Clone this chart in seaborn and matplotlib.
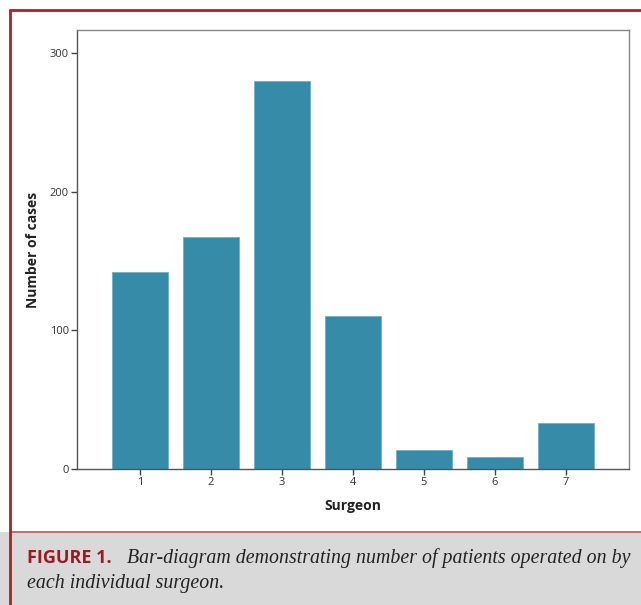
import matplotlib
matplotlib.use("Agg")
import matplotlib.pyplot as plt
import seaborn as sns
import pandas as pd

surgeons = ["1", "2", "3", "4", "5", "6", "7"]
cases = [142, 167, 280, 110, 14, 9, 33]
yticks = [0, 100, 200, 300]

bar_color = "#368ba8"
frame_red = "#a8222a"

sns.set_style("white")
plt.rcParams["font.family"] = ["Open Sans", "DejaVu Sans"]

df = pd.DataFrame({"Surgeon": surgeons, "cases": cases})

fig = plt.figure(figsize=(6.41, 6.05), dpi=100)
ax = fig.add_axes([77 / 641, 1 - 469 / 605, (629 - 77) / 641, (469 - 30) / 605])

sns.barplot(data=df, x="Surgeon", y="cases", color=bar_color, width=0.78,
            saturation=1, edgecolor="#6fb0c6", linewidth=0.6, ax=ax)

ax.set_xlim(-0.89, 6.89)
ax.set_ylim(0, 316.5)
ax.set_yticks(yticks)
ax.set_xlabel("Surgeon", fontsize=10, fontweight="bold", color="#222222", labelpad=8)
ax.set_ylabel("Number of cases", fontsize=10, fontweight="bold", color="#222222", labelpad=7)
for s in ax.spines.values():
    s.set_color("#555555")
    s.set_linewidth(1.0)
ax.spines["top"].set_color("#888888")
ax.spines["right"].set_color("#888888")
ax.tick_params(axis="both", direction="out", length=4, width=1.0, color="#444444",
               labelsize=8, labelcolor="#333333", pad=2)
ax.tick_params(left=True, bottom=True)

# page frame and caption panel
fig.patches.append(plt.Rectangle((0, 0), 1, (605 - 532) / 605, transform=fig.transFigure,
                                 facecolor="#d9d9d9", edgecolor="none", zorder=0))
fig.add_artist(plt.Line2D([10 / 641, 1], [1 - 532 / 605] * 2, color="#c0555c", lw=1.2))
fig.add_artist(plt.Line2D([10 / 641, 1], [1 - 10 / 605] * 2, color=frame_red, lw=2))
fig.add_artist(plt.Line2D([10 / 641, 10 / 641], [0, 1 - 10 / 605], color=frame_red, lw=2))

fig.text(27 / 641, 1 - 563 / 605, "FIGURE 1.", fontsize=13, fontweight="bold",
         color="#9b1b24", va="baseline")
fig.text(127 / 641, 1 - 563 / 605,
         "Bar-diagram demonstrating number of patients operated on by",
         fontsize=14.3, style="italic", family="Liberation Serif", color="#222222",
         va="baseline")
fig.text(27 / 641, 1 - 588 / 605, "each individual surgeon.", fontsize=14.3,
         style="italic", family="Liberation Serif", color="#222222", va="baseline")

fig.savefig("out.png", dpi=100)
